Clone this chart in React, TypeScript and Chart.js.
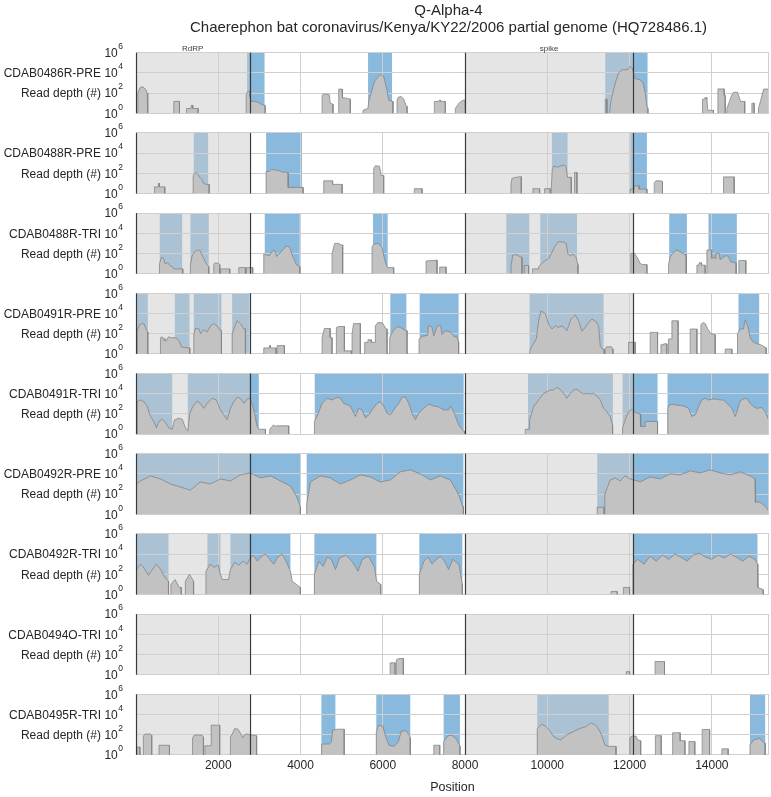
import React, { useEffect, useRef } from 'react';
import { Chart, registerables } from 'chart.js';

Chart.register(...registerables);

// ---------------- text ----------------
const TITLE = 'Q-Alpha-4';
const SUBTITLE = 'Chaerephon bat coronavirus/Kenya/KY22/2006 partial genome (HQ728486.1)';
const Y_LABEL = 'Read depth (#)';
const X_LABEL = 'Position';
const SAMPLE_NAMES = [
  'CDAB0486R-PRE', 'CDAB0488R-PRE', 'CDAB0488R-TRI', 'CDAB0491R-PRE', 'CDAB0491R-TRI',
  'CDAB0492R-PRE', 'CDAB0492R-TRI', 'CDAB0494O-TRI', 'CDAB0495R-TRI',
];

// ---------------- axes ----------------
const X_MIN = 0;
const X_MAX = 15390;
const X_TICKS = [0, 2000, 4000, 6000, 8000, 10000, 12000, 14000];
const Y_TICK_EXPONENTS = [0, 2, 4, 6];

// ---------------- genes ----------------
const GENE_NAMES = ['RdRP', 'spike'];
const GENE_REGIONS = [[0, 2760], [8007, 12082]];

// ---------------- covered (blue) regions per sample ----------------
const blue486PRE = [[2700, 3125], [5642, 6225], [11409, 12437]];
const blue488PRE = [[1405, 1754], [3164, 4035], [10113, 10493], [12020, 12422]];
const blue488TRI = [[578, 1123], [1324, 1769], [3130, 3981], [5763, 6119], [9003, 9562], [9829, 10721], [12964, 13394], [13919, 14608]];
const blue491PRE = [[0, 287], [943, 1300], [1405, 2078], [2338, 2758], [6184, 6573], [6897, 7844], [9569, 11368], [14648, 15151]];
const blue491TRI = [[0, 880], [1259, 2985], [4345, 7966], [9530, 11595], [11830, 12680], [12923, 15390]];
const blue492PRE = [[0, 3990], [4150, 7960], [11214, 15390]];
const blue492TRI = [[0, 790], [1737, 2053], [2296, 3754], [4337, 5844], [6889, 7934], [12082, 15110]];
const blue494OTRI: number[][] = [];
const blue495TRI = [[4508, 4848], [5842, 6668], [7480, 7876], [9756, 11491], [14928, 15297]];

// ---------------- read depth (position, depth pairs per covered stretch) ----------------
const depth486PRE = [
  [44, 1, 44, 100, 92, 316, 150, 450, 231, 250, 272, 100, 287, 100, 287, 1],
  [919, 1, 919, 15, 1057, 15, 1057, 1],
  [1227, 1, 1227, 3, 1341, 3, 1341, 6, 1380, 6, 1380, 3, 1511, 3, 1511, 1],
  [2678, 1, 2678, 70, 2717, 150, 2766, 150, 2770, 40, 2800, 15, 2904, 15, 2960, 12, 3000, 10, 3074, 7, 3140, 6, 3140, 1],
  [4524, 1, 4524, 60, 4560, 80, 4700, 70, 4720, 10, 4791, 8, 4791, 1],
  [4928, 1, 4928, 250, 5010, 250, 5020, 35, 5140, 30, 5212, 25, 5212, 1],
  [5520, 1, 5520, 2, 5640, 3, 5657, 15, 5739, 200, 5800, 1500, 5860, 3000, 5941, 6800, 6022, 4500, 6103, 200, 6143, 20, 6225, 15, 6249, 15, 6249, 1],
  [6347, 1, 6347, 20, 6380, 40, 6450, 45, 6510, 25, 6570, 5, 6590, 5, 6590, 1],
  [7254, 1, 7254, 15, 7370, 15, 7370, 20, 7400, 20, 7400, 15, 7521, 15, 7521, 1],
  [7764, 1, 7764, 3, 7800, 5, 7850, 10, 7950, 20, 8000, 20, 8010, 10, 8010, 1],
  [11409, 1, 11409, 25, 11450, 25, 11450, 1],
  [11514, 1, 11540, 10, 11571, 46, 11652, 1000, 11733, 10000, 11814, 20000, 11895, 20000, 11976, 25000, 12016, 46000, 12070, 25000, 12081, 20000, 12114, 3000, 12179, 2500, 12259, 2000, 12324, 1000, 12381, 100, 12422, 5, 12446, 3, 12446, 1],
  [13773, 1, 13773, 25, 13830, 25, 13830, 35, 13880, 35, 13880, 25, 13900, 2, 14040, 2, 14040, 1],
  [14148, 1, 14148, 260, 14300, 260, 14300, 60, 14326, 60, 14326, 1],
  [14366, 1, 14366, 3, 14430, 15, 14480, 60, 14530, 120, 14620, 120, 14650, 60, 14700, 15, 14800, 15, 14800, 1],
  [14973, 1, 14973, 10, 15029, 10, 15029, 1],
  [15134, 1, 15134, 3, 15200, 30, 15260, 250, 15390, 250],
];
const depth488PRE = [
  [450, 1, 450, 4.5, 545, 4.5, 545, 10, 570, 10, 570, 4.5, 700, 4.5, 700, 1],
  [1390, 1, 1390, 60, 1430, 100, 1470, 110, 1510, 80, 1535, 45, 1600, 25, 1640, 10, 1700, 8, 1779, 8, 1779, 1],
  [3164, 1, 3164, 150, 3250, 160, 3300, 250, 3350, 220, 3420, 200, 3500, 170, 3560, 130, 3600, 120, 3640, 140, 3700, 110, 3700, 4, 4063, 4, 4063, 1],
  [4564, 1, 4564, 18, 4780, 18, 4780, 8, 5011, 8, 5011, 1],
  [5779, 1, 5779, 300, 5820, 550, 5920, 500, 5960, 60, 6022, 60, 6022, 1],
  [6768, 1, 6768, 3, 6955, 3, 6955, 1],
  [9117, 1, 9117, 8, 9140, 30, 9200, 37, 9300, 44, 9368, 46, 9368, 1],
  [9652, 1, 9652, 3, 9813, 3, 9813, 1],
  [9934, 1, 9934, 3, 10072, 3, 10072, 1],
  [10097, 1, 10097, 3, 10120, 250, 10170, 530, 10250, 400, 10330, 530, 10410, 660, 10450, 500, 10490, 40, 10583, 40, 10583, 1],
  [10663, 1, 10663, 120, 10721, 120, 10721, 1],
  [12016, 1, 12016, 2.7, 12110, 2.7, 12110, 5.7, 12230, 5.7, 12230, 2.7, 12422, 2.7, 12422, 1],
  [12600, 1, 12600, 12, 12640, 18, 12760, 18, 12801, 15, 12801, 1],
  [14284, 1, 14284, 44, 14544, 44, 14544, 1],
];
const depth488TRI = [
  [571, 1, 571, 10, 620, 43, 680, 30, 700, 10, 770, 12, 830, 6, 880, 5, 920, 3, 1138, 3, 1138, 1],
  [1324, 1, 1324, 8, 1360, 50, 1420, 150, 1500, 220, 1560, 200, 1620, 50, 1700, 11, 1769, 5, 1769, 1],
  [1891, 1, 1891, 8, 1910, 11, 2000, 11, 2037, 8, 2037, 1],
  [2053, 1, 2053, 3, 2280, 3, 2280, 1],
  [2499, 1, 2499, 4, 2661, 4, 2661, 1],
  [2686, 1, 2686, 4, 2838, 4, 2838, 1],
  [3106, 1, 3106, 90, 3180, 70, 3240, 60, 3300, 150, 3370, 220, 3420, 50, 3530, 150, 3650, 550, 3730, 480, 3810, 50, 3900, 8, 3981, 5, 3981, 1],
  [4767, 1, 4767, 100, 4830, 1000, 4930, 1000, 4990, 700, 5025, 700, 5025, 1],
  [5739, 1, 5739, 470, 5790, 900, 5900, 1000, 5980, 400, 6050, 20, 6110, 4, 6265, 4, 6265, 1],
  [7052, 1, 7052, 18, 7200, 20, 7319, 22, 7319, 1],
  [7383, 1, 7383, 4.5, 7538, 4.5, 7538, 1],
  [9117, 1, 9117, 5, 9160, 70, 9250, 75, 9330, 50, 9385, 40, 9385, 1],
  [9441, 1, 9441, 6.5, 9545, 6.5, 9545, 1],
  [9643, 1, 9643, 3, 9789, 3, 9789, 5, 9860, 10, 9950, 20, 10030, 30, 10100, 100, 10180, 470, 10260, 1450, 10380, 1450, 10460, 1000, 10500, 100, 10560, 55, 10620, 90, 10700, 40, 10745, 8, 10745, 1],
  [12032, 1, 12032, 100, 12110, 110, 12190, 40, 12260, 10, 12320, 8, 12422, 8, 12422, 1],
  [12947, 1, 12947, 8, 12990, 50, 13050, 100, 13130, 220, 13210, 170, 13330, 80, 13377, 80, 13377, 1],
  [13637, 1, 13637, 7, 13690, 7, 13690, 12, 13750, 12, 13750, 7, 13839, 7, 13839, 1],
  [13880, 1, 13880, 220, 13995, 220, 13995, 35, 14060, 40, 14090, 30, 14100, 100, 14180, 100, 14200, 25, 14250, 35, 14330, 60, 14400, 55, 14460, 15, 14590, 12, 14590, 1],
  [14657, 1, 14657, 20, 14827, 20, 14827, 1],
];
const depth491PRE = [
  [29, 1, 29, 200, 90, 800, 150, 1000, 200, 900, 260, 200, 287, 150, 287, 1],
  [595, 1, 595, 40, 640, 50, 680, 20, 700, 35, 730, 18, 760, 30, 790, 50, 850, 40, 950, 40, 1000, 30, 1050, 20, 1100, 5, 1240, 4, 1307, 4, 1307, 1],
  [1405, 1, 1405, 90, 1450, 360, 1530, 300, 1570, 100, 1650, 250, 1730, 150, 1810, 600, 1890, 1000, 1970, 600, 2050, 200, 2078, 200, 2078, 1],
  [2338, 1, 2338, 90, 2380, 300, 2460, 1900, 2540, 1000, 2620, 300, 2661, 300, 2661, 1],
  [3106, 1, 3106, 3.9, 3240, 3.9, 3240, 6.6, 3270, 6.6, 3270, 3.9, 3406, 3.9, 3406, 1],
  [3430, 1, 3430, 6.6, 3608, 6.6, 3608, 1],
  [4524, 1, 4524, 40, 4580, 330, 4720, 330, 4720, 40, 4767, 40, 4767, 1],
  [4872, 1, 4872, 400, 4920, 520, 5067, 520, 5067, 2, 5237, 2, 5237, 1],
  [5254, 1, 5254, 100, 5290, 1000, 5455, 1000, 5455, 1],
  [5560, 1, 5560, 14, 5640, 14, 5640, 25, 5720, 25, 5720, 14, 5820, 14, 5820, 600, 5880, 1300, 5990, 1200, 6080, 300, 6104, 300, 6104, 1],
  [6168, 1, 6168, 40, 6250, 200, 6350, 490, 6430, 400, 6560, 200, 6590, 200, 6590, 1],
  [6882, 1, 6882, 30, 6970, 55, 7090, 70, 7110, 620, 7190, 500, 7240, 60, 7330, 620, 7410, 620, 7440, 80, 7520, 200, 7640, 150, 7740, 50, 7800, 50, 7844, 15, 7844, 1],
  [9569, 1, 9586, 3, 9732, 30, 9789, 1900, 9846, 18000, 9951, 10000, 10032, 890, 10113, 290, 10194, 610, 10275, 420, 10356, 610, 10477, 200, 10575, 2750, 10680, 7400, 10761, 1900, 10842, 170, 10923, 420, 11004, 1300, 11085, 2750, 11166, 1900, 11247, 610, 11288, 5, 11353, 3, 11384, 3, 11384, 1],
  [11409, 1, 11409, 3, 11440, 5, 11560, 5, 11595, 3, 11595, 1],
  [11976, 1, 11976, 14, 12138, 14, 12138, 1],
  [12502, 1, 12502, 135, 12680, 135, 12680, 1],
  [12762, 1, 12762, 8, 12830, 8, 12830, 10, 12907, 10, 12907, 1],
  [12947, 1, 12947, 30, 13030, 30, 13030, 1900, 13180, 1900, 13180, 1],
  [13474, 1, 13474, 290, 13637, 290, 13637, 1],
  [13734, 1, 13734, 800, 13790, 1300, 13840, 1000, 13900, 300, 13980, 100, 14082, 80, 14082, 1],
  [14325, 1, 14325, 3, 14487, 3, 14487, 1],
  [14624, 1, 14624, 100, 14690, 300, 14770, 300, 14810, 2400, 14850, 1000, 14890, 300, 14930, 40, 15000, 15, 15100, 10, 15190, 8, 15321, 4, 15321, 1],
];
const depth491TRI = [
  [29, 1, 29, 1600, 109, 2400, 190, 1600, 271, 610, 352, 55, 433, 18, 498, 4, 555, 18, 636, 30, 717, 14, 798, 4, 879, 3, 936, 26, 1041, 37, 1122, 30, 1203, 4, 1260, 2, 1308, 117, 1389, 610, 1486, 1900, 1567, 1100, 1648, 360, 1729, 1100, 1851, 3500, 1956, 2400, 2053, 250, 2134, 80, 2215, 26, 2296, 360, 2377, 1600, 2458, 4400, 2539, 3500, 2620, 1100, 2701, 3000, 2758, 3500, 2823, 1100, 2880, 117, 2944, 5.7, 2985, 3, 3147, 3, 3147, 1],
  [3252, 1, 3252, 3, 3300, 5, 3340, 8, 3380, 6, 3440, 6.6, 3713, 6.6, 3713, 1],
  [4338, 1, 4338, 18, 4402, 55, 4524, 1100, 4646, 3500, 4767, 2400, 4889, 4400, 4969, 3500, 5050, 1100, 5212, 610, 5334, 55, 5414, 360, 5495, 250, 5576, 40, 5657, 80, 5739, 250, 5860, 1100, 5941, 1600, 6022, 610, 6103, 117, 6184, 80, 6265, 250, 6387, 1100, 6468, 4400, 6549, 5000, 6630, 1100, 6711, 117, 6792, 26, 6873, 117, 6994, 360, 7116, 900, 7237, 610, 7358, 500, 7480, 250, 7601, 250, 7642, 610, 7723, 170, 7844, 8, 7966, 2, 7990, 2, 7990, 1],
  [9465, 1, 9465, 3, 9570, 3, 9570, 26, 9667, 520, 9789, 2400, 9910, 10700, 9991, 15800, 10072, 23000, 10153, 23000, 10235, 42000, 10315, 27000, 10396, 10700, 10477, 3500, 10558, 10700, 10639, 23000, 10721, 27000, 10801, 15800, 10882, 9300, 10963, 10700, 11044, 9300, 11125, 10700, 11207, 5900, 11287, 2400, 11368, 360, 11450, 170, 11530, 55, 11587, 8, 11587, 1],
  [11830, 1, 11830, 4, 11895, 26, 11976, 170, 12057, 290, 12114, 170, 12179, 120, 12259, 100, 12270, 5.7, 12381, 5.7, 12381, 18, 12680, 18, 12680, 1],
  [12930, 1, 12930, 300, 12947, 610, 13029, 900, 13150, 750, 13312, 610, 13433, 360, 13515, 55, 13596, 80, 13677, 520, 13758, 2400, 13839, 3500, 13919, 2400, 14001, 2800, 14082, 3000, 14203, 2400, 14284, 2400, 14366, 1100, 14487, 360, 14568, 55, 14609, 170, 14689, 1900, 14770, 3000, 14852, 3500, 14932, 1100, 15014, 520, 15095, 360, 15217, 430, 15298, 170, 15379, 26, 15390, 10],
];
const depth492PRE = [
  [12, 1, 12, 1000, 109, 2000, 352, 6300, 595, 3200, 838, 1000, 1081, 500, 1324, 250, 1567, 1600, 1810, 1000, 2053, 3200, 2296, 2000, 2539, 8000, 2782, 12600, 3025, 4000, 3268, 6300, 3511, 2000, 3754, 630, 3900, 63, 3997, 6, 3997, 1],
  [4150, 1, 4150, 10, 4240, 1600, 4483, 6300, 4726, 4000, 4969, 1000, 5212, 2500, 5455, 8000, 5698, 5000, 5941, 1600, 6184, 2500, 6427, 16000, 6670, 25000, 6913, 10000, 7156, 2500, 7399, 6300, 7642, 2500, 7840, 100, 7940, 6, 7960, 6, 7960, 1],
  [11214, 1, 11214, 5, 11380, 5, 11380, 1],
  [11400, 1, 11400, 100, 11530, 2500, 11650, 4000, 11770, 2000, 11890, 6300, 12016, 3200, 12259, 1600, 12502, 5000, 12745, 3200, 12988, 10000, 13231, 8000, 13474, 20000, 13717, 12600, 13960, 25000, 14203, 12600, 14446, 8000, 14689, 16000, 14932, 6300, 15050, 3200, 15060, 16, 15175, 16, 15300, 6, 15390, 2],
];
const depth492TRI = [
  [12, 1, 12, 300, 109, 1000, 200, 400, 300, 80, 400, 300, 500, 1000, 600, 300, 700, 50, 790, 20, 790, 1],
  [850, 1, 850, 10, 950, 30, 1050, 5, 1100, 5, 1100, 1],
  [1200, 1, 1200, 20, 1300, 100, 1400, 20, 1400, 1],
  [1700, 1, 1700, 200, 1800, 1000, 1900, 500, 2000, 800, 2050, 100, 2100, 30, 2250, 30, 2296, 300, 2400, 1500, 2500, 800, 2600, 2000, 2700, 1000, 2758, 3000, 2850, 8000, 2950, 2000, 3050, 6000, 3150, 10000, 3250, 3000, 3350, 1000, 3450, 5000, 3550, 10000, 3650, 2000, 3754, 200, 3800, 20, 3900, 10, 3997, 5, 3997, 1],
  [4337, 1, 4337, 100, 4450, 2000, 4550, 600, 4650, 5000, 4750, 3000, 4850, 300, 4950, 4000, 5100, 8000, 5250, 2000, 5400, 200, 5500, 3000, 5650, 6000, 5800, 500, 5850, 20, 5950, 10, 5950, 1],
  [6889, 1, 6889, 100, 7000, 2000, 7100, 5000, 7200, 1000, 7300, 3000, 7400, 6000, 7500, 2000, 7600, 300, 7700, 3000, 7850, 1000, 7934, 10, 7934, 1],
  [11550, 1, 11550, 2, 11700, 2, 11700, 1],
  [11850, 1, 11850, 5, 12000, 5, 12000, 1],
  [12082, 1, 12082, 1000, 12200, 3000, 12350, 1000, 12500, 6000, 12650, 2000, 12800, 8000, 12950, 3000, 13100, 10000, 13250, 5000, 13400, 2000, 13550, 8000, 13700, 12000, 13850, 5000, 14000, 3000, 14150, 8000, 14300, 4000, 14450, 10000, 14600, 5000, 14750, 2000, 14900, 6000, 15050, 3000, 15110, 1000, 15120, 5, 15250, 3, 15250, 1],
];
const depth494OTRI = [
  [6180, 1, 6180, 15, 6300, 15, 6300, 1],
  [6330, 1, 6330, 30, 6390, 40, 6500, 40, 6500, 1],
  [11920, 1, 11920, 2, 12000, 2, 12000, 1],
  [12620, 1, 12620, 20, 12850, 20, 12850, 1],
];
const depth495TRI = [
  [24, 1, 24, 6, 95, 6, 95, 1],
  [180, 1, 180, 80, 220, 115, 350, 115, 382, 90, 382, 1],
  [561, 1, 561, 9, 814, 9, 814, 1],
  [1375, 1, 1375, 50, 1420, 93, 1600, 93, 1640, 60, 1640, 1],
  [1674, 1, 1674, 8, 1830, 8, 1830, 870, 2034, 870, 2034, 1],
  [2296, 1, 2296, 60, 2330, 93, 2400, 400, 2480, 350, 2560, 100, 2598, 50, 2632, 93, 2700, 120, 2800, 93, 2933, 80, 2933, 1],
  [4512, 1, 4512, 12, 4700, 12, 4750, 18, 4780, 280, 4900, 350, 5062, 350, 5062, 1],
  [5842, 1, 5842, 200, 5900, 870, 6000, 700, 6080, 50, 6150, 9, 6280, 7, 6380, 20, 6450, 225, 6560, 250, 6640, 100, 6668, 50, 6668, 1],
  [7241, 1, 7241, 9, 7385, 9, 7385, 1],
  [7480, 1, 7480, 20, 7580, 75, 7680, 90, 7780, 40, 7876, 8, 7876, 1],
  [9756, 1, 9756, 400, 9860, 1070, 9960, 700, 10060, 250, 10160, 60, 10235, 40, 10330, 30, 10480, 100, 10630, 200, 10780, 400, 10930, 600, 11060, 1450, 11180, 900, 11300, 150, 11400, 10, 11491, 7, 11670, 7, 11670, 1],
  [12007, 1, 12007, 50, 12070, 75, 12160, 70, 12200, 30, 12270, 25, 12270, 1],
  [12628, 1, 12628, 80, 12770, 80, 12770, 1],
  [13047, 1, 13047, 155, 13230, 155, 13230, 25, 13346, 25, 13346, 1],
  [13443, 1, 13443, 21, 13586, 21, 13586, 1],
  [13766, 1, 13766, 330, 13946, 330, 13946, 1],
  [14245, 1, 14245, 4, 14398, 4, 14398, 1],
  [14928, 1, 14928, 10, 15020, 30, 15150, 44, 15250, 20, 15297, 15, 15297, 1],
];

const BLUE_LISTS = [blue486PRE, blue488PRE, blue488TRI, blue491PRE, blue491TRI, blue492PRE, blue492TRI, blue494OTRI, blue495TRI];
const DEPTH_LISTS = [depth486PRE, depth488PRE, depth488TRI, depth491PRE, depth491TRI, depth492PRE, depth492TRI, depth494OTRI, depth495TRI];

// ---------------- style ----------------
const FONT = '"Liberation Sans", Arial, sans-serif';
const TEXT = '#262626';
const GRID = '#cfcfcf';
const BLUE = 'rgb(137,185,220)';
const GENE_SHADE = 'rgba(203,203,203,0.5)';
const AREA_FILL = '#c2c2c2';
const AREA_LINE = '#858585';
const GENE_LINE = '#3a3a3a';

const FIRST_TOP = 52.7;
const PANEL_STEP = 80.2;
const PANEL_H = 60.6;
const FIG_H = 797;

function toPoints(segs: number[][]) {
  const pts: { x: number; y: number | null }[] = [];
  for (const s of segs) {
    for (let i = 0; i < s.length; i += 2) pts.push({ x: s[i], y: s[i + 1] });
    pts.push({ x: s[s.length - 2], y: null });
  }
  return pts;
}

function Panel({ idx }: { idx: number }) {
  const ref = useRef<HTMLCanvasElement>(null);
  const n = SAMPLE_NAMES.length;
  const first = idx === 0;
  const last = idx === n - 1;
  const areaTop = FIRST_TOP + PANEL_STEP * idx;
  const top = first ? 0 : Math.floor(areaTop) - 10;
  const padTop = areaTop - top;
  const height = last ? FIG_H - top : Math.ceil(padTop + PANEL_H + 10);
  const xAxisH = last ? height - padTop - PANEL_H : 0;
  const padBottom = last ? 0 : height - padTop - PANEL_H;

  useEffect(() => {
    const blue = BLUE_LISTS[idx];
    const decor = {
      id: 'decor' + idx,
      beforeDraw(chart: any) {
        const { ctx, chartArea: a, scales } = chart;
        const x = scales.x;
        ctx.save();
        ctx.beginPath();
        ctx.rect(a.left, a.top, a.right - a.left, a.bottom - a.top);
        ctx.clip();
        ctx.fillStyle = BLUE;
        for (const [s, e] of blue) {
          const x0 = x.getPixelForValue(s);
          const x1 = x.getPixelForValue(e);
          ctx.fillRect(x0, a.top, x1 - x0, a.bottom - a.top);
        }
        ctx.fillStyle = GENE_SHADE;
        for (const [s, e] of GENE_REGIONS) {
          const x0 = x.getPixelForValue(s);
          const x1 = x.getPixelForValue(e);
          ctx.fillRect(x0, a.top, x1 - x0, a.bottom - a.top);
        }
        ctx.restore();
      },
      afterDatasetsDraw(chart: any) {
        const { ctx, chartArea: a, scales } = chart;
        const x = scales.x;
        ctx.save();
        ctx.strokeStyle = GENE_LINE;
        ctx.lineWidth = 1.2;
        for (const [s, e] of GENE_REGIONS) {
          for (const v of [s, e]) {
            const px = Math.round(x.getPixelForValue(v)) + 0.5;
            ctx.beginPath();
            ctx.moveTo(px, a.top);
            ctx.lineTo(px, a.bottom);
            ctx.stroke();
          }
        }
        ctx.strokeStyle = GRID;
        ctx.lineWidth = 1;
        ctx.beginPath();
        ctx.moveTo(Math.round(a.right) - 0.5, a.top);
        ctx.lineTo(Math.round(a.right) - 0.5, a.bottom);
        ctx.stroke();
        ctx.restore();
      },
      afterDraw(chart: any) {
        const { ctx, chartArea: a, scales } = chart;
        const y = scales.y;
        const x = scales.x;
        ctx.save();
        ctx.fillStyle = TEXT;
        ctx.textBaseline = 'middle';
        for (const e of Y_TICK_EXPONENTS) {
          const py = y.getPixelForValue(Math.pow(10, e));
          ctx.textAlign = 'right';
          ctx.font = '8.5px ' + FONT;
          const ew = ctx.measureText(String(e)).width;
          ctx.fillText(String(e), 123, py - 6);
          ctx.font = '12px ' + FONT;
          ctx.fillText('10', 123 - ew - 0.5, py + 1);
        }
        ctx.font = '12px ' + FONT;
        ctx.textAlign = 'right';
        ctx.fillText(SAMPLE_NAMES[idx], 101, y.getPixelForValue(1e4) + 1);
        ctx.fillText(Y_LABEL, 101, y.getPixelForValue(1e2) + 1);
        if (first) {
          ctx.textAlign = 'center';
          ctx.fillStyle = '#3c3c3c';
          ctx.font = '8px ' + FONT;
          GENE_REGIONS.forEach(([s, e], i) => {
            const cx = (x.getPixelForValue(s) + x.getPixelForValue(e)) / 2;
            ctx.fillText(GENE_NAMES[i], cx, a.top - 4);
          });
          ctx.fillStyle = TEXT;
          ctx.font = '15px ' + FONT;
          const cx = (a.left + a.right) / 2 - 4;
          ctx.fillText(TITLE, cx, 11);
          ctx.fillText(SUBTITLE, cx, 28);
        }
        ctx.restore();
      },
    };

    const chart = new Chart(ref.current as HTMLCanvasElement, {
      type: 'line',
      data: {
        datasets: [
          {
            data: toPoints(DEPTH_LISTS[idx]) as any,
            borderColor: AREA_LINE,
            borderWidth: 0.8,
            backgroundColor: AREA_FILL,
            fill: 'start',
            pointRadius: 0,
            tension: 0,
            spanGaps: false,
          },
        ],
      },
      options: {
        animation: false,
        responsive: false,
        devicePixelRatio: 1,
        layout: { padding: { top: padTop, bottom: padBottom, left: 0, right: 2 } },
        plugins: { legend: { display: false }, tooltip: { enabled: false } },
        scales: {
          x: {
            type: 'linear',
            min: X_MIN,
            max: X_MAX,
            afterBuildTicks: (s: any) => {
              s.ticks = X_TICKS.map((v) => ({ value: v }));
            },
            afterFit: (s: any) => {
              s.height = xAxisH;
            },
            border: { display: false },
            grid: { color: GRID, lineWidth: 1, drawTicks: false },
            ticks: {
              display: last,
              padding: 4,
              color: TEXT,
              font: { family: FONT, size: 12 },
              maxRotation: 0,
              autoSkip: false,
              callback: (v: any) => (Number(v) === 0 ? '' : String(v)),
            },
            title: {
              display: last,
              text: X_LABEL,
              color: TEXT,
              font: { family: FONT, size: 12.5 },
              padding: { top: 0, bottom: 2 },
            },
          },
          y: {
            type: 'logarithmic',
            min: 1,
            max: 1e6,
            afterBuildTicks: (s: any) => {
              s.ticks = Y_TICK_EXPONENTS.map((e) => ({ value: Math.pow(10, e) }));
            },
            afterFit: (s: any) => {
              s.width = 136;
            },
            border: { display: false },
            grid: { color: GRID, lineWidth: 1, drawTicks: false },
            ticks: { display: false },
          },
        },
      },
      plugins: [decor],
    } as any);
    return () => chart.destroy();
  }, []);

  return (
    <canvas
      ref={ref}
      width={771}
      height={height}
      style={{ position: 'absolute', left: 0, top, width: 771, height, display: 'block' }}
    />
  );
}

export default function App() {
  return (
    <div style={{ position: 'absolute', left: 0, top: 0, width: 771, height: FIG_H, background: '#fff', overflow: 'hidden' }}>
      {SAMPLE_NAMES.map((_, i) => (
        <Panel key={i} idx={i} />
      ))}
    </div>
  );
}
